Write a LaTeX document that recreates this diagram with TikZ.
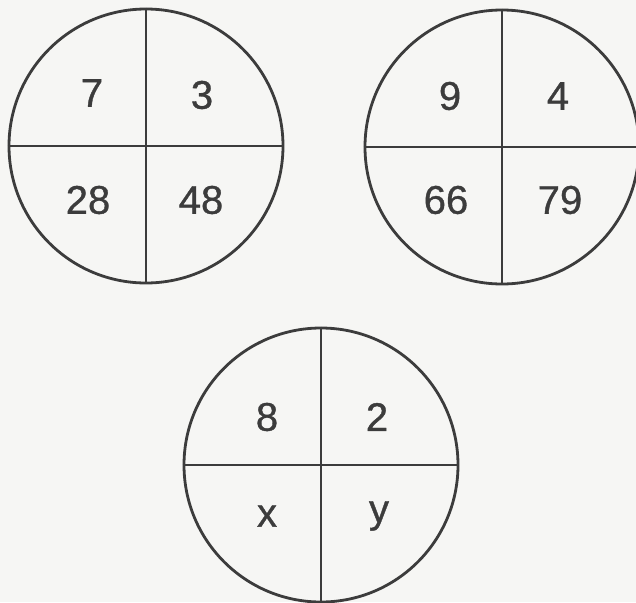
\documentclass[tikz,border=0pt]{standalone}
\usepackage{fontspec}
\setmainfont{Liberation Sans}
\newfontfamily\numfont{Liberation Sans}[FakeBold=0.9]
\definecolor{bg}{HTML}{F6F6F4}
\definecolor{ink}{HTML}{3C3C3C}
\begin{document}
\begin{tikzpicture}[x=1pt,y=-1pt,
  ring/.style={circle,draw=ink,line width=2.8pt,minimum size=274pt,inner sep=0pt},
  split/.style={draw=ink,line width=2.8pt},
  num/.style={text=ink,font=\numfont\fontsize{40}{44}\selectfont,inner sep=0pt}]
\fill[bg] (0,0) rectangle (636,602);
\useasboundingbox (0,0) rectangle (636,602);
% circle 1
\node[ring] (c1) at (146,146) {};
\draw[split] (c1.north) -- (c1.south);
\draw[split] (c1.west) -- (c1.east);
\node[num] (a1) at (92,93) {7};
\node[num] (a2) at (202,95) {3};
\node[num] (a3) at (88,200) {28};
\node[num] (a4) at (201,200) {48};
% circle 2
\node[ring] (c2) at (502,147) {};
\draw[split] (c2.north) -- (c2.south);
\draw[split] (c2.west) -- (c2.east);
\node[num] (b1) at (450,96) {9};
\node[num] (b2) at (558,96) {4};
\node[num] (b3) at (446,200) {66};
\node[num] (b4) at (560,200) {79};
% circle 3
\node[ring] (c3) at (321,465) {};
\draw[split] (c3.north) -- (c3.south);
\draw[split] (c3.west) -- (c3.east);
\node[num] (d1) at (267,417) {8};
\node[num] (d2) at (377,417) {2};
\node[num] (d3) at (267,516) {x};
\node[num] (d4) at (379,516) {y};
\end{tikzpicture}
\end{document}
